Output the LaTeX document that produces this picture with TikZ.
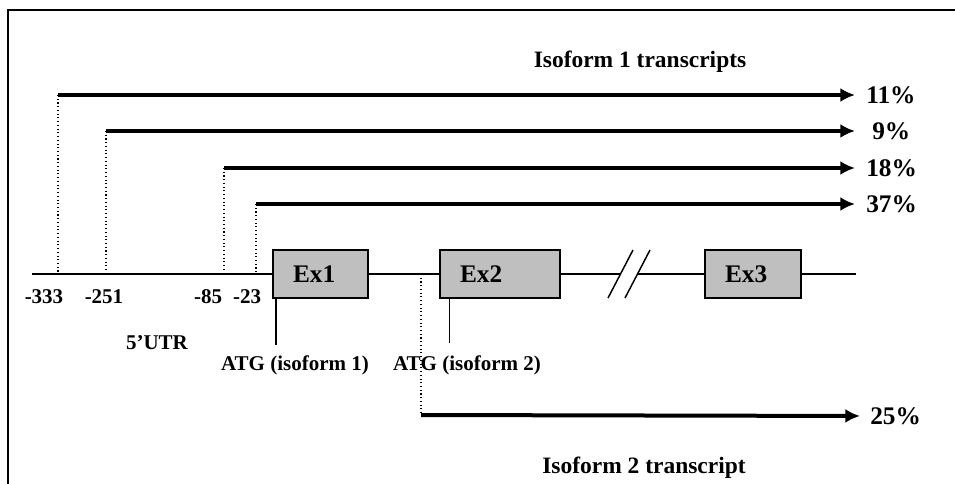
\documentclass[tikz,border=0pt]{standalone}
\usepackage{fontspec}
\setmainfont{Liberation Serif}
\usetikzlibrary{arrows.meta,positioning}

\tikzset{
  exon/.style={draw=black,line width=1.5pt,fill=black!25,minimum height=36pt,inner xsep=15pt,inner ysep=0pt,align=left,font=\fontsize{19}{22}\selectfont\bfseries},
  pct/.style={anchor=west,inner sep=0pt,font=\fontsize{19}{22}\selectfont\bfseries},
  lbl/.style={inner sep=0pt,font=\fontsize{15.75}{18}\selectfont\bfseries},
  ttl/.style={inner sep=0pt,font=\fontsize{17.6}{20}\selectfont\bfseries},
  trans/.style={line width=3pt,-{Latex[length=11pt,width=10.5pt]},shorten >=8.25pt},
  guide/.style={line width=0.8pt,dotted},
  gene/.style={line width=1.1pt},
}

\begin{document}
\begin{tikzpicture}[x=0.75pt,y=-0.75pt]
\useasboundingbox (0,0) rectangle (955,484);
% frame
\draw[line width=1.5pt] (8,484) -- (8,10) -- (955,10);

% exons on the gene line
\node[exon,minimum width=71.25pt,text width=41.25pt] (ex1) at (320.5,274) {Ex1};
\node[exon,minimum width=90pt,text width=60pt] (ex2) at (500,274) {Ex2};
\node[exon,minimum width=72pt,text width=42pt] (ex3) at (753,274) {Ex3};
\coordinate (g0) at (32,274);
\coordinate (g1) at (856,274);
\coordinate (brkA) at (621,274);
\coordinate (brkB) at (637,274);
\draw[gene] (g0) -- (ex1.west);
\draw[gene] (ex1.east) -- (ex2.west);
\draw[gene] (ex2.east) -- (brkA);
\draw[gene] (brkB) -- (ex3.west);
\draw[gene] (ex3.east) -- (g1);
\draw[gene] (608,298) -- (633,250);
\draw[gene] (625,298) -- (650,250);

% isoform 1 starts
\node[ttl] (iso1) at (640,62) {Isoform 1 transcripts};
\node[pct] (p11) at (866,95) {11\%};
\node[pct] (p9) at (872,131) {9\%};
\node[pct] (p18) at (866,168) {18\%};
\node[pct] (p37) at (866,204) {37\%};
\coordinate (s333) at (58,95);
\coordinate (s251) at (106,131);
\coordinate (s85) at (224,168);
\coordinate (s23) at (256,204);
\coordinate (b333) at (58,274);
\coordinate (b251) at (106,274);
\coordinate (b85) at (224,274);
\coordinate (b23) at (256,274);
\draw[guide] (s333) -- (b333);
\draw[guide] (s251) -- (b251);
\draw[guide] (s85) -- (b85);
\draw[guide] (s23) -- (b23);
\draw[trans] (s333) -- (p11.west);
\draw[trans,shorten >=12.75pt] (s251) -- (p9.west);
\draw[trans] (s85) -- (p18.west);
\draw[trans] (s23) -- (p37.west);

% positions
\node[lbl] (n333) at (44,297) {-333};
\node[lbl] (n251) at (104,297) {-251};
\node[lbl] (n85) at (208,297) {-85};
\node[lbl] (n23) at (247,297) {-23};
\node[lbl] (utr) at (157,343) {5’UTR};

% start codons
\coordinate (atg1) at (276,345);
\coordinate (atg2) at (449.5,343);
\draw[gene] (atg1 |- ex1.south) -- (atg1);
\draw[gene] (atg2 |- ex2.south) -- (atg2);
\node[lbl] (atgA) at (295,365) {ATG (isoform 1)};
\node[lbl] (atgB) at (467,365) {ATG (isoform 2)};

% isoform 2 start
\coordinate (b2) at (421,274);
\coordinate (s2) at (421,415);
\node[pct] (p25) at (870,416) {25\%};
\draw[guide] (b2) -- (s2);
\draw[trans,shorten >=7.5pt] (s2) -- (p25.west);
\node[ttl] (iso2) at (644,468) {Isoform 2 transcript};
\end{tikzpicture}
\end{document}
